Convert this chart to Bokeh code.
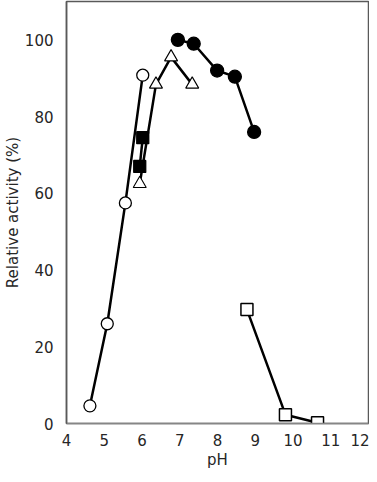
from bokeh.plotting import figure
from bokeh.models import Range1d, FixedTicker
from bokeh.embed import file_html
from bokeh.resources import INLINE

# Data
ph_open_circle = [4.62, 5.08, 5.56, 6.02]
act_open_circle = [4.6, 26.0, 57.5, 90.8]

ph_filled_square = [5.94, 6.02]
act_filled_square = [67.0, 74.5]

ph_open_triangle = [5.94, 6.37, 6.77, 7.33]
act_open_triangle = [62.5, 88.4, 95.5, 88.4]

ph_filled_circle = [6.95, 7.37, 7.99, 8.46, 8.97]
act_filled_circle = [100.0, 99.0, 92.0, 90.4, 76.0]

ph_open_square = [8.78, 9.80, 10.65]
act_open_square = [29.7, 2.3, 0.2]

x_ticks = [4, 5, 6, 7, 8, 9, 10, 11, 12]
y_ticks = [0, 20, 40, 60, 80, 100]

FONT = "DejaVu Sans"
TXT = "#262626"

p = figure(width=369, height=474, output_backend="svg", toolbar_location=None,
           x_range=Range1d(4, 12), y_range=Range1d(0, 110),
           min_border_left=66, min_border_right=1, min_border_top=1, min_border_bottom=51)

p.xgrid.visible = False
p.ygrid.visible = False
p.outline_line_color = "#595959"
p.outline_line_width = 1.5
p.background_fill_color = "white"
p.border_fill_color = "white"

p.xaxis.ticker = FixedTicker(ticks=x_ticks)
p.yaxis.ticker = FixedTicker(ticks=y_ticks)
for ax in (p.xaxis, p.yaxis):
    ax.major_tick_in = 0
    ax.major_tick_out = 0
    ax.minor_tick_in = 0
    ax.minor_tick_out = 0
    ax.major_label_text_font = FONT
    ax.major_label_text_font_size = "15px"
    ax.major_label_text_color = TXT
    ax.axis_label_text_font = FONT
    ax.axis_label_text_font_size = "15px"
    ax.axis_label_text_font_style = "normal"
    ax.axis_label_text_color = TXT

p.xaxis.axis_line_color = "#868686"
p.xaxis.axis_line_width = 1.5
p.yaxis.axis_line_color = "#595959"
p.yaxis.axis_line_width = 1.5
p.xaxis.major_label_standoff = 10
p.yaxis.major_label_standoff = 13
p.xaxis.axis_label = "pH"
p.yaxis.axis_label = "Relative activity (%)"
p.xaxis.axis_label_standoff = 2
p.yaxis.axis_label_standoff = 0

LW = 2.5
p.line(ph_open_circle, act_open_circle, line_color="black", line_width=LW)
p.line(ph_filled_square, act_filled_square, line_color="black", line_width=LW)
p.line(ph_open_triangle, act_open_triangle, line_color="black", line_width=LW)
p.line(ph_filled_circle, act_filled_circle, line_color="black", line_width=LW)
p.line(ph_open_square, act_open_square, line_color="black", line_width=LW)

p.scatter(ph_open_circle, act_open_circle, marker="circle", size=12,
          fill_color="white", line_color="black", line_width=1.3)
p.scatter(ph_filled_square, act_filled_square, marker="square", size=12,
          fill_color="black", line_color="black", line_width=1.3)
p.scatter(ph_open_triangle, act_open_triangle, marker="triangle", size=13,
          fill_color="white", line_color="black", line_width=1.1)
p.scatter(ph_filled_circle, act_filled_circle, marker="circle", size=13,
          fill_color="black", line_color="black", line_width=1.3)
p.scatter(ph_open_square, act_open_square, marker="square", size=12,
          fill_color="white", line_color="black", line_width=1.5)

open("out.html", "w").write(file_html(p, INLINE))
